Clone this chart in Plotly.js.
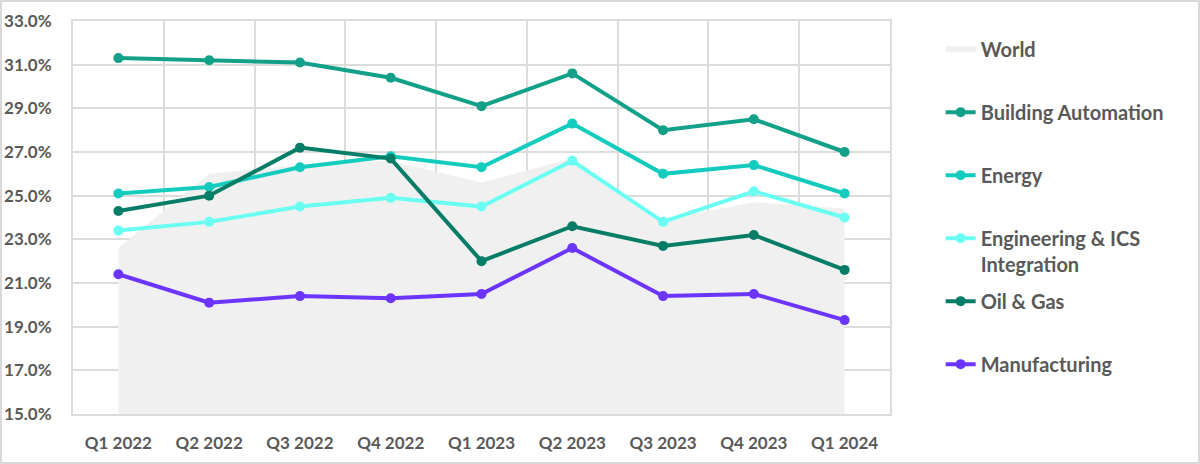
<!DOCTYPE html>
<html>
<head>
<meta charset="utf-8">
<script src="https://cdn.plot.ly/plotly-3.0.1.min.js"></script>
<style>
  html, body { margin: 0; padding: 0; background: #fff; }
  #wrap { position: relative; width: 1200px; height: 464px; }
  #chart { position: absolute; left: 0; top: 0; width: 1200px; height: 464px; }
  #frame { position: absolute; left: 0; top: 0; width: 1200px; height: 464px; box-sizing: border-box; border: 2px solid #d9d9d9; pointer-events: none; }
</style>
</head>
<body>
<div id="wrap"><div id="chart"></div><div id="frame"></div></div>
<script>
const quarters = ["Q1 2022", "Q2 2022", "Q3 2022", "Q4 2022", "Q1 2023", "Q2 2023", "Q3 2023", "Q4 2023", "Q1 2024"];
const world = [22.6, 26.0, 26.4, 26.6, 25.6, 26.7, 23.9, 24.7, 24.4];
const buildingAutomation = [31.3, 31.2, 31.1, 30.4, 29.1, 30.6, 28.0, 28.5, 27.0];
const energy = [25.1, 25.4, 26.3, 26.8, 26.3, 28.3, 26.0, 26.4, 25.1];
const engineeringICS = [23.4, 23.8, 24.5, 24.9, 24.5, 26.6, 23.8, 25.2, 24.0];
const oilGas = [24.3, 25.0, 27.2, 26.7, 22.0, 23.6, 22.7, 23.2, 21.6];
const manufacturing = [21.4, 20.1, 20.4, 20.3, 20.5, 22.6, 20.4, 20.5, 19.3];
const yTicks = [15, 17, 19, 21, 23, 25, 27, 29, 31, 33];
const yTickText = yTicks.map(v => v.toFixed(1) + "%");

const fontFam = "Lato, 'Open Sans', sans-serif";
const textCol = "#595959";

function lineTrace(name, y, color, group) {
  return {
    type: "scatter", mode: "lines+markers", name: name, x: quarters, y: y,
    line: { color: color, width: 4 },
    marker: { color: color, size: 10 },
    legendgroup: group,
    hoverinfo: "x+y+name"
  };
}

const traces = [
  {
    type: "scatter", mode: "none", name: "World<br> ", x: quarters, y: world,
    fill: "tozeroy", fillcolor: "#f0f0f0", legendgroup: "g0"
  },
  lineTrace("Building Automation<br> ", buildingAutomation, "#13a089", "g1"),
  lineTrace("Energy<br> ", energy, "#14ccbe", "g2"),
  lineTrace("Engineering & ICS<br>Integration", engineeringICS, "#6bfff3", "g3"),
  lineTrace("Oil & Gas<br> ", oilGas, "#067d67", "g4"),
  lineTrace("Manufacturing<br> ", manufacturing, "#6c35ff", "g5")
];

const layout = {
  width: 1200, height: 464,
  margin: { l: 73, r: 310, t: 21, b: 50 },
  paper_bgcolor: "#ffffff", plot_bgcolor: "#ffffff",
  font: { family: fontFam, color: textCol, size: 17, weight: "bold" },
  showlegend: true,
  legend: {
    x: 1.062, xanchor: "left", y: 0.978, yanchor: "top",
    traceorder: "grouped", tracegroupgap: 8, valign: "top",
    font: { family: fontFam, size: 20, color: textCol, weight: "bold" },
    bgcolor: "rgba(0,0,0,0)"
  },
  xaxis: {
    type: "category", range: [-0.5, 8.5], tickson: "boundaries",
    showgrid: true, gridcolor: "#dcdcdc", gridwidth: 2,
    showline: true, linecolor: "#dcdcdc", linewidth: 2, mirror: true,
    ticks: "", ticklabelstandoff: 13,
    tickfont: { family: fontFam, size: 17, color: textCol, weight: "bold" },
    fixedrange: true
  },
  yaxis: {
    range: [15, 33], tickvals: yTicks, ticktext: yTickText, tickmode: "array",
    showgrid: true, gridcolor: "#dcdcdc", gridwidth: 2, zeroline: false,
    showline: true, linecolor: "#dcdcdc", linewidth: 2, mirror: true,
    ticks: "", ticklabelstandoff: 16,
    tickfont: { family: fontFam, size: 17, color: textCol, weight: "bold" },
    fixedrange: true
  }
};

Plotly.newPlot("chart", traces, layout, { displayModeBar: false, staticPlot: true });
</script>
</body>
</html>
